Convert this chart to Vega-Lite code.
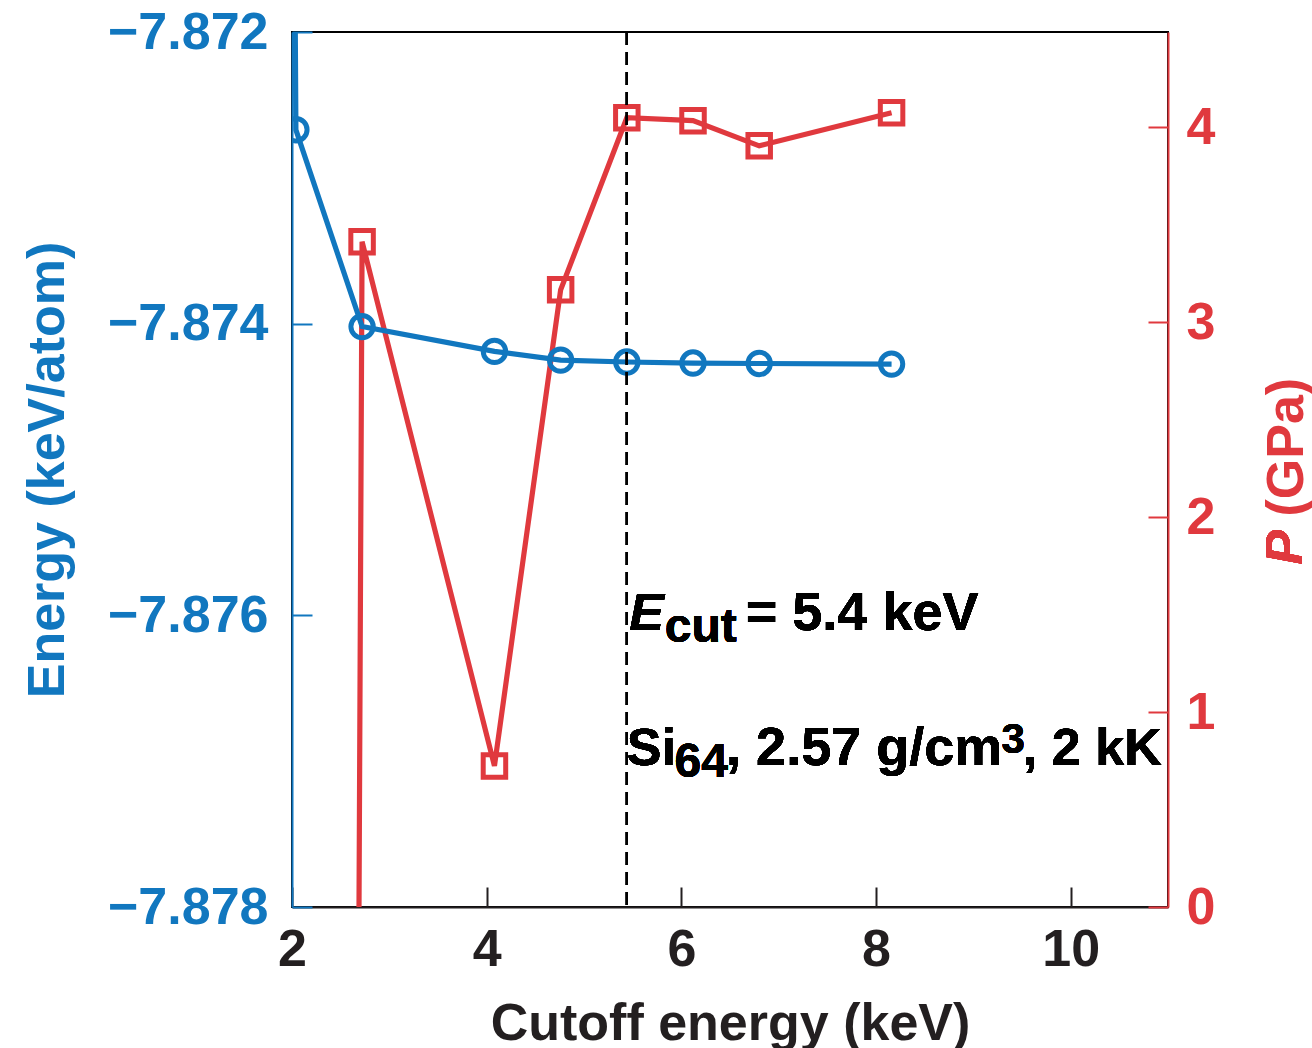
{
  "$schema": "https://vega.github.io/schema/vega-lite/v6.json",
  "width": 876,
  "height": 875,
  "autosize": {"type": "none"},
  "padding": {"left": 292, "top": 32, "right": 144, "bottom": 141},
  "background": "white",
  "config": {
    "view": {"stroke": "black", "strokeWidth": 2},
    "font": "Liberation Sans",
    "axis": {"grid": false, "labelFontSize": 52, "labelFontWeight": "bold", "titleFontSize": 52, "titleFontWeight": "bold", "tickSize": -20, "tickWidth": 2, "domainWidth": 2, "labelOverlap": false, "labelFlush": false}
  },
  "resolve": {"scale": {"y": "independent"}},
  "layer": [
    {
      "data": {"values": [
        {"cutoff": 2.04, "pressure": -70},
        {"cutoff": 2.72, "pressure": 3.414},
        {"cutoff": 4.08, "pressure": 0.724},
        {"cutoff": 4.76, "pressure": 3.167},
        {"cutoff": 5.44, "pressure": 4.05},
        {"cutoff": 6.12, "pressure": 4.035},
        {"cutoff": 6.80, "pressure": 3.906},
        {"cutoff": 8.16, "pressure": 4.076}
      ]},
      "layer": [
        {
          "mark": {"type": "line", "stroke": "#E0393E", "strokeWidth": 5.2, "clip": true},
          "encoding": {
            "x": {"field": "cutoff", "type": "quantitative", "scale": {"domain": [2, 11], "nice": false, "zero": false},
              "axis": {"orient": "bottom", "values": [2, 4, 6, 8, 10], "format": "d", "labelPadding": 37, "labelColor": "#231F20", "domainColor": "#231F20", "tickColor": "#231F20", "title": "Cutoff energy (keV)", "titleColor": "#231F20", "titleX": 438, "titleY": 132, "titleBaseline": "alphabetic", "titleAlign": "center"}},
            "y": {"field": "pressure", "type": "quantitative", "scale": {"domain": [0, 4.49], "nice": false, "zero": false},
              "axis": {"orient": "right", "values": [0, 1, 2, 3, 4], "format": "d", "labelPadding": 38, "labelColor": "#E0393E", "domainColor": "#E0393E", "tickColor": "#E0393E", "title": "(GPa)", "titleColor": "#E0393E", "titleAngle": 270, "titleX": 134, "titleY": 484, "titleAlign": "left", "titleBaseline": "alphabetic"}}
          }
        },
        {
          "mark": {"type": "point", "shape": "square", "filled": false, "stroke": "#E0393E", "strokeWidth": 5, "size": 506, "opacity": 1, "clip": true},
          "encoding": {
            "x": {"field": "cutoff", "type": "quantitative"},
            "y": {"field": "pressure", "type": "quantitative"}
          }
        },
        {
          "mark": {"type": "text", "text": "P", "font": "Liberation Sans", "fontSize": 52, "fontWeight": "bold", "fontStyle": "italic", "color": "#E0393E", "angle": 270, "align": "left", "baseline": "alphabetic"},
          "encoding": {"x": {"datum": 12.372}, "y": {"datum": 1.756}}
        },
        {
          "mark": {"type": "text", "text": "E", "fontSize": 52, "fontWeight": "bold", "fontStyle": "italic", "color": "black", "align": "left", "baseline": "alphabetic"},
          "encoding": {"x": {"datum": 5.465}, "y": {"datum": 1.422}}
        },
        {
          "mark": {"type": "text", "text": "cut", "fontSize": 48, "fontWeight": "bold", "color": "black", "align": "left", "baseline": "alphabetic"},
          "encoding": {"x": {"datum": 5.83}, "y": {"datum": 1.36}}
        },
        {
          "mark": {"type": "text", "text": "= 5.4 keV", "fontSize": 54, "fontWeight": "bold", "color": "black", "align": "left", "baseline": "alphabetic"},
          "encoding": {"x": {"datum": 6.662}, "y": {"datum": 1.422}}
        },
        {
          "mark": {"type": "text", "text": "Si", "fontSize": 52, "fontWeight": "bold", "color": "black", "align": "left", "baseline": "alphabetic"},
          "encoding": {"x": {"datum": 5.44}, "y": {"datum": 0.729}}
        },
        {
          "mark": {"type": "text", "text": "64", "fontSize": 48, "fontWeight": "bold", "color": "black", "align": "left", "baseline": "alphabetic"},
          "encoding": {"x": {"datum": 5.93}, "y": {"datum": 0.667}}
        },
        {
          "mark": {"type": "text", "text": ", 2.57 g/cm", "fontSize": 54, "fontWeight": "bold", "color": "black", "align": "left", "baseline": "alphabetic"},
          "encoding": {"x": {"datum": 6.46}, "y": {"datum": 0.729}}
        },
        {
          "mark": {"type": "text", "text": "3", "fontSize": 42, "fontWeight": "bold", "color": "black", "align": "left", "baseline": "alphabetic"},
          "encoding": {"x": {"datum": 9.29}, "y": {"datum": 0.791}}
        },
        {
          "mark": {"type": "text", "text": ", 2 kK", "fontSize": 52, "fontWeight": "bold", "color": "black", "align": "left", "baseline": "alphabetic"},
          "encoding": {"x": {"datum": 9.51}, "y": {"datum": 0.729}}
        }
      ]
    },
    {
      "data": {"values": [
        {"cutoff": 1.36, "energy": -7.80},
        {"cutoff": 2.04, "energy": -7.87267},
        {"cutoff": 2.72, "energy": -7.87402},
        {"cutoff": 4.08, "energy": -7.87419},
        {"cutoff": 4.76, "energy": -7.87425},
        {"cutoff": 5.44, "energy": -7.874263},
        {"cutoff": 6.12, "energy": -7.87427},
        {"cutoff": 6.80, "energy": -7.874273},
        {"cutoff": 8.16, "energy": -7.874277}
      ]},
      "layer": [
        {
          "mark": {"type": "line", "stroke": "#1177BF", "strokeWidth": 5.2, "clip": true},
          "encoding": {
            "x": {"field": "cutoff", "type": "quantitative",
              "axis": {"orient": "bottom", "values": [2, 4, 6, 8, 10], "format": "d", "labelPadding": 37, "labelColor": "#231F20", "domainColor": "#231F20", "tickColor": "#231F20", "title": "Cutoff energy (keV)", "titleColor": "#231F20", "titleX": 438, "titleY": 132, "titleBaseline": "alphabetic", "titleAlign": "center"}},
            "y": {"field": "energy", "type": "quantitative", "scale": {"domain": [-7.878, -7.872], "nice": false, "zero": false},
              "axis": {"orient": "left", "values": [-7.878, -7.876, -7.874, -7.872], "format": ".3f", "labelPadding": 44, "labelColor": "#1177BF", "domainColor": "#1177BF", "tickColor": "#1177BF", "title": "Energy (keV/atom)", "titleColor": "#1177BF", "titleAngle": 270, "titleX": -229, "titleY": 437.5, "titleAlign": "center", "titleBaseline": "alphabetic"}}
          }
        },
        {
          "mark": {"type": "point", "shape": "circle", "filled": false, "stroke": "#1177BF", "strokeWidth": 5, "size": 500, "opacity": 1, "clip": true},
          "encoding": {
            "x": {"field": "cutoff", "type": "quantitative"},
            "y": {"field": "energy", "type": "quantitative"}
          }
        },
        {
          "mark": {"type": "rule", "color": "black", "strokeWidth": 2, "strokeDash": [13, 7]},
          "encoding": {"x": {"datum": 5.44}}
        }
      ]
    }
  ]
}
